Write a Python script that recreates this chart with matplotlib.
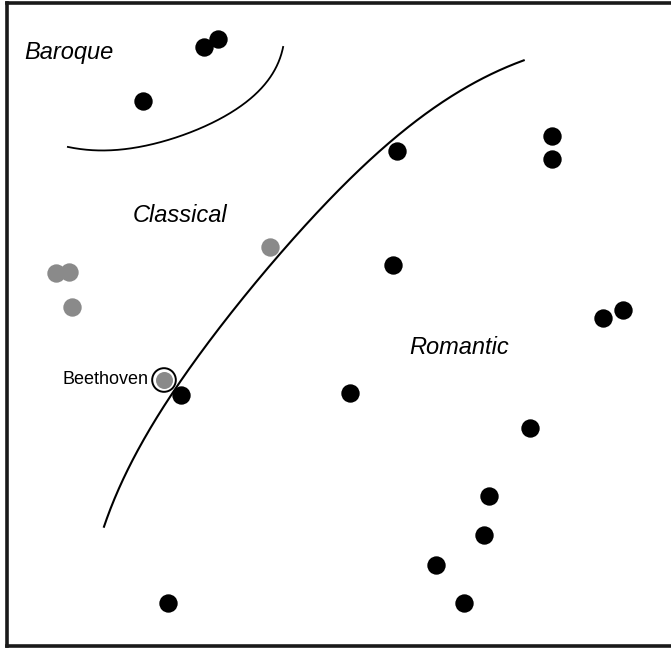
import matplotlib.pyplot as plt
import numpy as np

W, H = 671, 648

# composers (pixel-like coordinates of the sketch, y grows downward)
romantic_x = [204, 218, 143, 397, 552, 552, 393, 603, 623, 181, 350, 530, 489, 484, 436, 168, 464]
romantic_y = [47, 39, 101, 151, 136, 159, 265, 318, 310, 395, 393, 428, 496, 535, 565, 603, 603]
classical_x = [56, 69, 72, 270]
classical_y = [273, 272, 307, 247]
beethoven_xy = (164, 380)

# hand drawn era boundaries
baroque_x = [68, 110, 160, 210, 253, 273, 283]
baroque_y = [147, 150, 143, 123, 97, 73, 47]
classical_bx = [105, 118, 138, 167, 180, 200, 230, 260, 292, 343, 383, 417, 467, 523]
classical_by = [527, 487, 450, 400, 380, 357, 317, 277, 240, 183, 147, 122, 88, 60]

labels = ["Baroque", "Classical", "Romantic"]
label_pos = [(24, 52), (133, 216), (409, 347)]


def smooth(xs, ys, deg):
    xs, ys = np.asarray(xs, float), np.asarray(ys, float)
    t = np.concatenate([[0], np.cumsum(np.hypot(np.diff(xs), np.diff(ys)))])
    tt = np.linspace(0, t[-1], 300)
    return np.polyval(np.polyfit(t, xs, deg), tt), np.polyval(np.polyfit(t, ys, deg), tt)


fig = plt.figure(figsize=(W / 100, H / 100), dpi=100)
x0, x1, ytop, ybot = 6.5, 690, 2.5, 645.5
ax = fig.add_axes([x0 / W, (H - ybot) / H, (x1 - x0) / W, (ybot - ytop) / H])
ax.set_xlim(x0, x1)
ax.set_ylim(ybot, ytop)
ax.set_xticks([])
ax.set_yticks([])
ax.spines["right"].set_visible(False)
for s in ["left", "top", "bottom"]:
    ax.spines[s].set_linewidth(2.6)
    ax.spines[s].set_color("#1a1a1a")

bx, by = smooth(baroque_x, baroque_y, 4)
ax.plot(bx, by, color="black", lw=1.3)
cx, cy = smooth(classical_bx, classical_by, 4)
ax.plot(cx, cy, color="black", lw=1.5)

ax.scatter(romantic_x, romantic_y, s=175, color="black", zorder=3, linewidths=0)
ax.scatter(classical_x, classical_y, s=175, color="#8a8a8a", zorder=3, linewidths=0)
ax.scatter([beethoven_xy[0]], [beethoven_xy[1]], s=150, color="#8a8a8a", zorder=3, linewidths=0)
ax.scatter([beethoven_xy[0]], [beethoven_xy[1]], s=290, facecolors="none",
           edgecolors="black", linewidths=1.4, zorder=4)
ax.text(beethoven_xy[0] - 16, beethoven_xy[1], "Beethoven", fontsize=13,
        family="Liberation Sans", ha="right", va="center")

for lab, (lx, ly) in zip(labels, label_pos):
    ax.text(lx, ly, lab, fontsize=17, style="italic", family="Liberation Sans",
            ha="left", va="center")

fig.savefig("out.png", dpi=100)
